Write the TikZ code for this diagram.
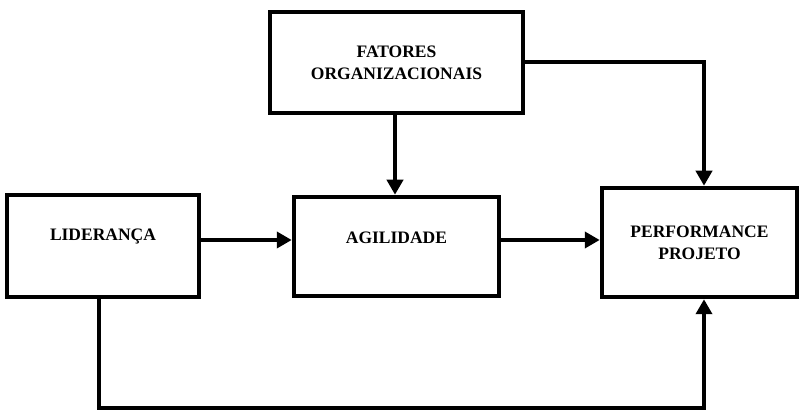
\documentclass[tikz,border=0pt]{standalone}
\usepackage{fontspec}
\setmainfont{Liberation Serif}
\usetikzlibrary{arrows.meta}
\begin{document}
\begin{tikzpicture}[x=1pt,y=-1pt,
  box/.style={draw,line width=4.5pt,rectangle,inner sep=0pt},
  lbl/.style={font=\bfseries\fontsize{17.5}{22}\selectfont,align=center,inner sep=0pt},
  conn/.style={line width=4.5pt,-{Triangle[length=15pt,width=16pt]}}]
\useasboundingbox (0,0) rectangle (800,411);
% boxes
\node[box,minimum width=253pt,minimum height=101pt] (fat) at (396.5,62.5) {};
\node[box,minimum width=192pt,minimum height=102pt] (lid) at (103,246) {};
\node[box,minimum width=205pt,minimum height=99pt] (agi) at (396.5,246.5) {};
\node[box,minimum width=195pt,minimum height=109pt] (perf) at (699.5,242.5) {};
% labels
\node[lbl] (tfat) at (fat.center) {FATORES\\ORGANIZACIONAIS};
\node[lbl] (tlid) at ([yshift=9pt]lid.center) {LIDERANÇA};
\node[lbl] (tagi) at ([yshift=9pt]agi.center) {AGILIDADE};
\node[lbl] (tperf) at (perf.center) {PERFORMANCE\\PROJETO};
% connectors
\coordinate (c1) at (704,62);
\coordinate (c2) at (99,408);
\coordinate (c3) at (704,408);
\draw[conn] (fat.south -| 395,0) -- (agi.north -| 395,0);
\draw[conn] (fat.east |- c1) -- (c1) -- (perf.north -| c1);
\draw[conn] (lid.east |- 0,240) -- (agi.west |- 0,240);
\draw[conn] (agi.east |- 0,240) -- (perf.west |- 0,240);
\draw[conn] (lid.south -| c2) -- (c2) -- (c3) -- (perf.south -| c3);
\end{tikzpicture}
\end{document}
